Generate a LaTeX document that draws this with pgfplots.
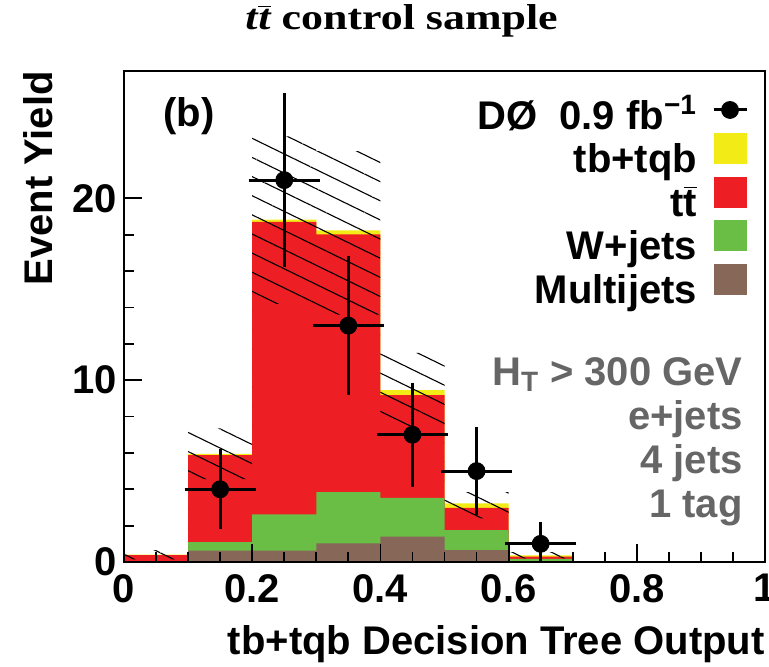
\documentclass[border=0pt]{standalone}
\usepackage{fontspec}
\setmainfont{Liberation Sans}
\newfontfamily\titlefont{Liberation Serif}[FakeStretch=1.22]
\usepackage{pgfplots}
\pgfplotsset{compat=1.18}
\usetikzlibrary{patterns.meta}
\definecolor{cYellow}{RGB}{242,235,22}
\definecolor{cRed}{RGB}{237,30,36}
\definecolor{cGreen}{RGB}{106,189,69}
\definecolor{cBrown}{RGB}{135,103,88}
\definecolor{cGrey}{RGB}{102,102,102}
\newcommand{\bigfont}{\fontsize{20}{24}\selectfont\bfseries}
\begin{document}
\begin{tikzpicture}
\begin{axis}[
  name=ax, at={(0,0)}, anchor=south west,
  scale only axis, width=320.5pt, height=245.5pt,
  xmin=0, xmax=1, ymin=0, ymax=27,
  xtick={0,0.2,0.4,0.6,0.8,1}, minor x tick num=3,
  ytick={0,10,20}, minor y tick num=4,
  tick pos=left, tick align=inside,
  major tick length=9pt, minor tick length=5pt,
  axis line style={line width=0.9pt},
  every tick/.style={line width=0.9pt, black},
  axis on top,
  /pgf/number format/assume math mode=true,
  tick label style={font=\bigfont},
  xticklabel style={inner sep=0pt, yshift=-6pt},
  yticklabel style={inner sep=0pt, xshift=-3.5pt},
  xlabel={tb+tqb Decision Tree Output},
  xlabel style={font=\bigfont, at={(rel axis cs:1,-0.128)}, anchor=north east, inner sep=0pt},
  ylabel={Event Yield},
  ylabel style={font=\bigfont, at={(rel axis cs:-0.1108,1.0)}, anchor=south east, inner sep=0pt},
  legend style={draw=none, fill=none, at={(rel axis cs:0.9735,0.94)}, anchor=north east,
    inner sep=0pt, outer sep=0pt, font=\bigfont, row sep=-3pt, column sep=7.5pt,
    nodes={inner sep=0pt, text height=14.5pt, text depth=5pt}},
  legend cell align=right,
  legend plot pos=right,
]
% legend entry for data
\addlegendimage{legend image code/.code={
  \draw[line width=1.5pt, black] (0pt,5pt) -- (16.5pt,5pt);
  \fill[black] (8.25pt,5pt) circle (4.25pt);}}
\addlegendentry{DØ\ \ 0.9 fb\textsuperscript{−1}}
% stacked histograms (cumulative tops), drawn from the total downwards
\addplot[const plot, fill=cYellow, draw=none,
  legend image code/.code={\fill[cYellow] (0pt,-0.5pt) rectangle (16.5pt,15pt);}]
  coordinates {(0.0,0.40) (0.1,5.95) (0.2,18.83) (0.3,18.24) (0.4,9.45) (0.5,3.22) (0.6,0.37) (0.7,0.05) (0.8,0) (0.9,0) (1.0,0)} \closedcycle;
\addlegendentry{tb+tqb}
\addplot[const plot, fill=cRed, draw=none,
  legend image code/.code={\fill[cRed] (0pt,-0.5pt) rectangle (16.5pt,15pt);}]
  coordinates {(0.0,0.38) (0.1,5.88) (0.2,18.70) (0.3,18.02) (0.4,9.18) (0.5,2.98) (0.6,0.29) (0.7,0.04) (0.8,0) (0.9,0) (1.0,0)} \closedcycle;
\addlegendentry{t$\overline{\hbox{t}}$}
\addplot[const plot, fill=cGreen, draw=none,
  legend image code/.code={\fill[cGreen] (0pt,-0.5pt) rectangle (16.5pt,15pt);}]
  coordinates {(0.0,0) (0.1,1.10) (0.2,2.62) (0.3,3.85) (0.4,3.53) (0.5,1.76) (0.6,0.17) (0.7,0) (0.8,0) (0.9,0) (1.0,0)} \closedcycle;
\addlegendentry{W+jets}
\addplot[const plot, fill=cBrown, draw=none,
  legend image code/.code={\fill[cBrown] (0pt,-0.5pt) rectangle (16.5pt,15pt);}]
  coordinates {(0.0,0) (0.1,0.62) (0.2,0.62) (0.3,1.03) (0.4,1.39) (0.5,0.66) (0.6,0) (0.7,0) (0.8,0) (0.9,0) (1.0,0)} \closedcycle;
\addlegendentry{Multijets}
% total uncertainty band: upper edge left to right, lower edge right to left
\addplot[pattern={Lines[angle=-26, distance=8.6pt, line width=0.55pt]}, draw=none, forget plot]
  coordinates {(0.0,0.65) (0.1,0.65) (0.1,7.35) (0.2,7.35) (0.2,23.4) (0.3,23.4) (0.3,22.6) (0.4,22.6)
    (0.4,11.5) (0.5,11.5) (0.5,3.85) (0.6,3.85) (0.6,0.55) (0.7,0.55)
    (0.7,0.2) (0.6,0.2) (0.6,2.4) (0.5,2.4) (0.5,7.4) (0.4,7.4) (0.4,13.6) (0.3,13.6)
    (0.3,14.2) (0.2,14.2) (0.2,4.56) (0.1,4.56) (0.1,0.15) (0.0,0.15)} -- cycle;
% data
\addplot[only marks, mark=*, mark size=4.25pt, black, forget plot,
  error bars/.cd, x dir=both, x explicit, y dir=both, y explicit,
  error bar style={line width=1.5pt},
  error mark options={line width=1.5pt, mark size=1.8pt}]
  table[x=x, y=y, x error=ex, y error=ey] {
x    y  ex   ey
0.15 4  0.05 2.0
0.25 21 0.05 4.58
0.35 13 0.05 3.61
0.45 7  0.05 2.65
0.55 5  0.05 2.24
0.65 1  0.05 1.0
};
\node[font=\bigfont, anchor=west, inner sep=0pt] at (rel axis cs:0.061,0.908) {(b)};
\node[font=\fontsize{20}{22}\selectfont\bfseries, text=cGrey, align=right, anchor=north east, inner sep=0pt]
  at (rel axis cs:0.9657,0.4175) {H\textsubscript{T} > 300 GeV\\e+jets\\4 jets\\1 tag};
\end{axis}
\node[font=\titlefont\fontsize{18}{20}\selectfont\bfseries, anchor=base, inner sep=0pt] at (138.75pt,266.5pt)
  {\itshape t\kern0.5pt$\overline{\hbox{\itshape t}}$\upshape{} control sample};
\pgfresetboundingbox
\path (-62pt,-52pt) rectangle (322.5pt,281pt);
\end{tikzpicture}
\end{document}
